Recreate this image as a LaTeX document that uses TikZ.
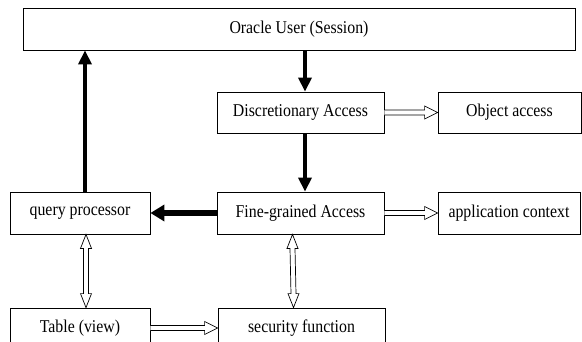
\documentclass[tikz,border=0pt]{standalone}
\usepackage{fontspec}
\setmainfont[FakeStretch=0.88]{Liberation Serif}
\usetikzlibrary{arrows.meta,calc}
\tikzset{
  box/.style={draw, line width=0.8pt, minimum height=42pt, inner sep=0pt, font=\fontsize{18}{20}\selectfont},
  thick arrow/.style={line width=4.5pt, -{Triangle[length=14pt,width=13pt]}},
  hollow/.style={draw, fill=white, line width=0.7pt, line join=miter},
}
\newcommand{\hollowH}[2]{%
  \path[hollow] ($(#1)+(0,2.5)$) -- ($(#2)+(-13,2.5)$) -- ($(#2)+(-13,6.5)$) -- (#2)
    -- ($(#2)+(-13,-6.5)$) -- ($(#2)+(-13,-2.5)$) -- ($(#1)+(0,-2.5)$);}
\newcommand{\hollowV}[2]{%
  \path[hollow] (#1) -- ($(#1)+(5.5,14)$) -- ($(#1)+(2.5,14)$) -- ($(#2)+(2.5,-14)$)
    -- ($(#2)+(5.5,-14)$) -- (#2) -- ($(#2)+(-5.5,-14)$) -- ($(#2)+(-2.5,-14)$)
    -- ($(#1)+(-2.5,14)$) -- ($(#1)+(-5.5,14)$) -- cycle;}
\begin{document}
\begin{tikzpicture}[x=1pt,y=-1pt]
\useasboundingbox (0,0) rectangle (582,341);
\node[box, minimum width=552pt] (oracle) at (299,29) {Oracle User (Session)};
\node[box, minimum width=167pt, minimum height=41pt] (disc) at (300.5,112.5) {Discretionary Access};
\node[box, minimum width=143pt, minimum height=41pt] (obj) at (509.5,112.5) {Object access};
\node[box, minimum width=140pt] (qp) at (80,213) {query processor};
\node[box, minimum width=167pt] (fine) at (300.5,213) {Fine-grained Access};
\node[box, minimum width=142pt] (app) at (509,213) {application context};
\node[box, minimum width=140pt, minimum height=40pt] (table) at (80,328) {Table (view)};
\node[box, minimum width=167pt, minimum height=40pt] (sec) at (301.5,328) {security function};
% thick arrows
\draw[thick arrow] ([xshift=4.5pt]disc.north |- oracle.south) -- ([xshift=4.5pt]disc.north);
\draw[thick arrow] ([xshift=4.5pt]disc.south) -- ([xshift=4.5pt]fine.north);
\draw[thick arrow] ([xshift=5pt]qp.north) -- ([xshift=5pt]qp.north |- oracle.south);
\draw[line width=6pt, -{Triangle[length=14pt,width=16pt]}] (fine.west) -- (qp.east);
% hollow arrows
\hollowH{disc.east}{obj.west}
\hollowH{fine.east}{app.west}
\hollowH{table.east}{sec.west}
\hollowV{[xshift=6pt]qp.south}{[xshift=6pt]table.north}
\hollowV{[xshift=-8pt]fine.south}{[xshift=-8pt]sec.north}
\end{tikzpicture}
\end{document}
